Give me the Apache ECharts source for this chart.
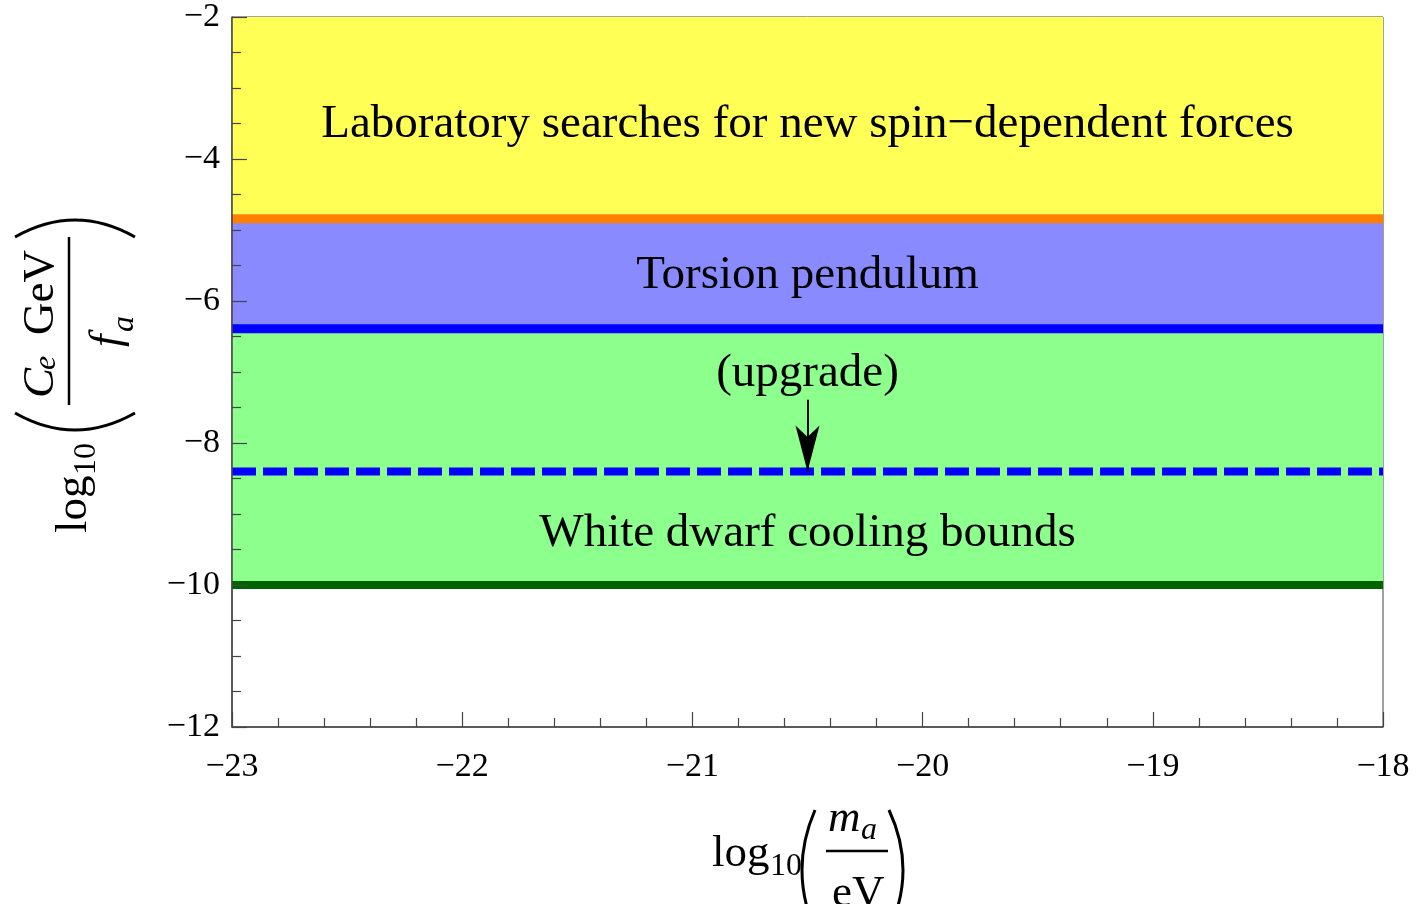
<!DOCTYPE html>
<html>
<head>
<meta charset="utf-8">
<script src="https://cdn.jsdelivr.net/npm/echarts@6/dist/echarts.min.js"></script>
<style>
  html, body { margin: 0; padding: 0; background: #fff; }
  #chart { width: 1416px; height: 904px; }
</style>
</head>
<body>
<div id="chart"></div>
<script>
// axis ranges / ticks
const xRange = [-23, -18];
const yRange = [-12, -2];

// band boundaries (log10 of coupling)
const labBound = -4.84;       // orange line
const torsionBound = -6.39;   // blue line
const upgradeBound = -8.4;    // dashed blue line
const wdBound = -10;          // dark green line

// annotation labels: [x, y, text]
const labels = [
  [-20.5, -3.52, 'Laboratory searches for new spin\u2212dependent forces'],
  [-20.5, -5.65, 'Torsion pendulum'],
  [-20.5, -7.02, '(upgrade)'],
  [-20.5, -9.27, 'White dwarf cooling bounds']
];

// arrow from "(upgrade)" down to the dashed line
const arrowX = -20.5;
const arrowFrom = -7.39;
const arrowTo = upgradeBound;

const serif = 'Liberation Serif';
const fmt = v => (v < 0 ? '\u2212' + Math.abs(v) : String(v));

function hline(name, y, color, width, type) {
  return {
    name: name,
    type: 'line',
    data: [[xRange[0], y], [xRange[1], y]],
    symbol: 'none',
    lineStyle: { color: color, width: width, type: type || 'solid', cap: 'butt' },
    z: 3,
    silent: true
  };
}

let myChart = echarts.init(document.getElementById('chart'));

let option = {
  animation: false,
  grid: { left: 232, right: 33, top: 17, bottom: 177, show: true, borderColor: '#444', borderWidth: 1 },
  xAxis: {
    type: 'value', min: xRange[0], max: xRange[1], interval: 1, z: 5,
    axisLine: { show: true, lineStyle: { color: '#444', width: 1.5 } },
    axisTick: { show: true, inside: true, length: 15, lineStyle: { color: '#444', width: 1.2 } },
    minorTick: { show: true, splitNumber: 5, length: 9, lineStyle: { color: '#444', width: 1.2 } },
    splitLine: { show: false },
    axisLabel: { formatter: fmt, fontFamily: serif, fontSize: 34, color: '#000', margin: 23 }
  },
  yAxis: {
    type: 'value', min: yRange[0], max: yRange[1], interval: 2, z: 5,
    axisLine: { show: true, lineStyle: { color: '#444', width: 1.5 } },
    axisTick: { show: true, inside: true, length: 15, lineStyle: { color: '#444', width: 1.2 } },
    minorTick: { show: true, splitNumber: 4, length: 9, lineStyle: { color: '#444', width: 1.2 } },
    splitLine: { show: false },
    axisLabel: { formatter: fmt, fontFamily: serif, fontSize: 34, color: '#000', margin: 12 }
  },
  series: [
    {
      name: 'bands',
      type: 'line',
      data: [],
      z: 1,
      silent: true,
      markArea: {
        silent: true,
        data: [
          [{ yAxis: yRange[1], itemStyle: { color: '#FFFF55' } }, { yAxis: labBound }],
          [{ yAxis: labBound, itemStyle: { color: '#8A8AFF' } }, { yAxis: torsionBound }],
          [{ yAxis: torsionBound, itemStyle: { color: '#8CFF8C' } }, { yAxis: wdBound }]
        ]
      }
    },
    hline('lab', labBound, '#FF8000', 9),
    hline('torsion', torsionBound, '#0000FF', 9),
    hline('wd', wdBound, '#006400', 8),
    hline('upgrade', upgradeBound, '#0000FF', 8, [24, 7]),
    {
      name: 'arrow',
      type: 'line',
      data: [],
      z: 6,
      markLine: {
        silent: true,
        symbol: ['none', 'arrow'],
        symbolSize: [18, 46],
        label: { show: false },
        lineStyle: { color: '#000', width: 2, type: 'solid' },
        data: [[{ coord: [arrowX, arrowFrom] }, { coord: [arrowX, arrowTo] }]]
      }
    },
    {
      name: 'labels',
      type: 'scatter',
      symbolSize: 0,
      z: 7,
      silent: true,
      itemStyle: { color: 'transparent', opacity: 1 },
      data: labels.map(d => ({ value: [d[0], d[1]], name: d[2] })),
      label: {
        show: true, position: 'inside', formatter: p => p.name,
        fontFamily: serif, fontSize: 47, color: '#000', opacity: 1, textBorderWidth: 0
      }
    }
  ],
  graphic: [
    // y axis title: log10( Ce GeV / fa ), rotated
    {
      type: 'group', x: 69, y: 533, rotation: Math.PI / 2,
      children: [
        { type: 'text', style: { text: 'log', x: 0, y: 5, font: '45px ' + serif, fill: '#000', align: 'left', verticalAlign: 'middle' } },
        { type: 'text', style: { text: '10', x: 58, y: 18, font: '32px ' + serif, fill: '#000', align: 'left', verticalAlign: 'middle' } },
        { type: 'bezierCurve', shape: { x1: 120, y1: -54, cpx1: 86, cpy1: 6, x2: 120, y2: 66 }, style: { stroke: '#000', lineWidth: 3, fill: null } },
        { type: 'text', style: { text: 'C', x: 135, y: -28, font: 'italic 45px ' + serif, fill: '#000', align: 'left', verticalAlign: 'middle' } },
        { type: 'text', style: { text: 'e', x: 163, y: -22, font: 'italic 32px ' + serif, fill: '#000', align: 'left', verticalAlign: 'middle' } },
        { type: 'text', style: { text: 'GeV', x: 198, y: -28, font: '45px ' + serif, fill: '#000', align: 'left', verticalAlign: 'middle' } },
        { type: 'line', shape: { x1: 128, y1: 0, x2: 296, y2: 0 }, style: { stroke: '#000', lineWidth: 2.5 } },
        { type: 'text', style: { text: 'f', x: 186, y: 39, font: 'italic 45px ' + serif, fill: '#000', align: 'left', verticalAlign: 'middle' } },
        { type: 'text', style: { text: 'a', x: 201, y: 56, font: 'italic 32px ' + serif, fill: '#000', align: 'left', verticalAlign: 'middle' } },
        { type: 'bezierCurve', shape: { x1: 296, y1: -54, cpx1: 330, cpy1: 6, x2: 296, y2: 66 }, style: { stroke: '#000', lineWidth: 3, fill: null } }
      ]
    },
    // x axis title: log10( ma / eV )
    {
      type: 'group', x: 0, y: 0,
      children: [
        { type: 'text', style: { text: 'log', x: 712, y: 854, font: '45px ' + serif, fill: '#000', align: 'left', verticalAlign: 'middle' } },
        { type: 'text', style: { text: '10', x: 770, y: 867, font: '32px ' + serif, fill: '#000', align: 'left', verticalAlign: 'middle' } },
        { type: 'bezierCurve', shape: { x1: 815, y1: 810, cpx1: 789, cpy1: 870, x2: 815, y2: 930 }, style: { stroke: '#000', lineWidth: 3, fill: null } },
        { type: 'text', style: { text: 'm', x: 828, y: 819, font: 'italic 45px ' + serif, fill: '#000', align: 'left', verticalAlign: 'middle' } },
        { type: 'text', style: { text: 'a', x: 861, y: 831, font: 'italic 32px ' + serif, fill: '#000', align: 'left', verticalAlign: 'middle' } },
        { type: 'line', shape: { x1: 826, y1: 851, x2: 888, y2: 851 }, style: { stroke: '#000', lineWidth: 2.5 } },
        { type: 'text', style: { text: 'eV', x: 832, y: 894, font: '45px ' + serif, fill: '#000', align: 'left', verticalAlign: 'middle' } },
        { type: 'bezierCurve', shape: { x1: 889, y1: 810, cpx1: 917, cpy1: 870, x2: 889, y2: 930 }, style: { stroke: '#000', lineWidth: 3, fill: null } }
      ]
    }
  ]
};

myChart.setOption(option);
window.addEventListener('resize', () => myChart.resize(), false);
</script>
</body>
</html>
